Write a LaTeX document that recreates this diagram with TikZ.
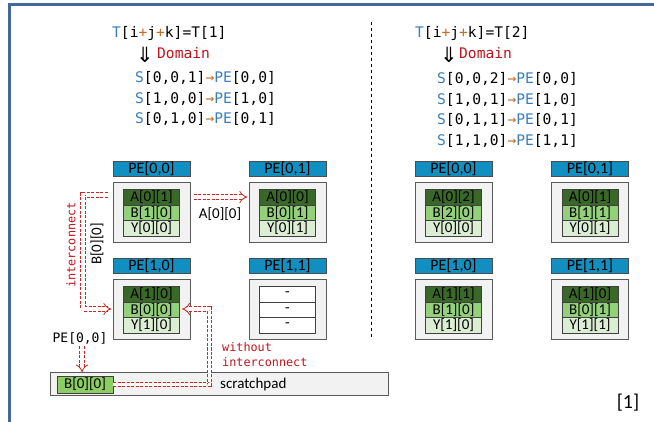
\documentclass[tikz,border=0pt]{standalone}
\usepackage{fontspec}
\setmainfont{Carlito}
\newfontfamily\mono{DejaVu Sans Mono}
\newfontfamily\dvs{DejaVu Sans}
\usetikzlibrary{arrows.meta,calc}
\definecolor{frameblue}{RGB}{65,105,155}
\definecolor{hdrblue}{RGB}{16,143,192}
\definecolor{txtblue}{RGB}{60,125,190}
\definecolor{txtorange}{RGB}{197,110,40}
\definecolor{txtred}{RGB}{192,20,30}
\definecolor{arrred}{RGB}{205,40,40}
\definecolor{boxgray}{RGB}{242,242,242}
\definecolor{boxedge}{RGB}{90,90,90}
\definecolor{gA}{RGB}{58,104,40}
\definecolor{gB}{RGB}{146,208,122}
\definecolor{gY}{RGB}{219,238,212}
\definecolor{gS}{RGB}{140,205,100}
\newcommand\tb[1]{\textcolor{txtblue}{#1}}
\newcommand\tor[1]{\textcolor{txtorange}{#1}}
\newcommand\drawpe[7]{%
  \node[pehdr] (#1h) at (#2,#3-44.5) {#4};
  \node[pebox] (#1) at (#2,#3) {};
  \node[cellbox,fill=gA] (#1A) at (#2,#3-15.5) {#5};
  \node[cellbox,fill=gB] (#1B) at (#2,#3) {#6};
  \node[cellbox,fill=gY] (#1Y) at (#2,#3+15.5) {#7};
}
\begin{document}
\begin{tikzpicture}[x=1pt,y=-1pt,
  pebox/.style={draw=boxedge,fill=boxgray,line width=1pt,minimum width=77pt,minimum height=60pt,inner sep=0pt},
  pehdr/.style={draw=black!70,fill=hdrblue,line width=0.8pt,minimum width=77pt,minimum height=15pt,inner sep=0pt,font=\fontsize{16}{16}\selectfont},
  cellbox/.style={draw=black!75,line width=0.8pt,minimum width=56pt,minimum height=15.5pt,inner sep=0pt,font=\fontsize{15}{15}\selectfont},
  mtext/.style={inner sep=0pt,font=\mono\fontsize{14.6}{17}\selectfont},
  redarr/.style={draw=arrred,double=white,double distance=3.5pt,line width=0.8pt,dash pattern=on 3pt off 1.5pt,-{Implies[scale=1.4]}},
  redmono/.style={text=txtred,inner sep=0pt,font=\mono\fontsize{11.8}{15}\selectfont}]
\useasboundingbox (0,0) rectangle (654,422);
\fill[white] (0,0) rectangle (654,422);
\draw[frameblue,line width=3pt] (9,422) -- (9,5) -- (654,5);
% divider
\draw[dash pattern=on 3pt off 3pt,line width=0.9pt] (371,22) -- (371,340);
% left text
\node[mtext,anchor=west] (t1) at (112,33) {\tb{T}[i\tor{+}j\tor{+}k]=T[1]};
\node[inner sep=0pt,font=\dvs\fontsize{21}{21}\selectfont] (d1) at (145,55) {⇓};
\node[mtext,anchor=west,text=txtred] (dom1) at (157,53) {Domain};
\node[mtext,anchor=west] (s11) at (135,78) {\tb{S}[0,0,1]\tor{→}\tb{PE}[0,0]};
\node[mtext,anchor=west] (s12) at (135,98.5) {\tb{S}[1,0,0]\tor{→}\tb{PE}[1,0]};
\node[mtext,anchor=west] (s13) at (135,119) {\tb{S}[0,1,0]\tor{→}\tb{PE}[0,1]};
% right text
\node[mtext,anchor=west] (t2) at (415,33) {\tb{T}[i\tor{+}j\tor{+}k]=T[2]};
\node[inner sep=0pt,font=\dvs\fontsize{21}{21}\selectfont] (d2) at (449,55) {⇓};
\node[mtext,anchor=west,text=txtred] (dom2) at (459,53) {Domain};
\node[mtext,anchor=west] (s21) at (437,79) {\tb{S}[0,0,2]\tor{→}\tb{PE}[0,0]};
\node[mtext,anchor=west] (s22) at (437,99.5) {\tb{S}[1,0,1]\tor{→}\tb{PE}[1,0]};
\node[mtext,anchor=west] (s23) at (437,120) {\tb{S}[0,1,1]\tor{→}\tb{PE}[0,1]};
\node[mtext,anchor=west] (s24) at (437,140.5) {\tb{S}[1,1,0]\tor{→}\tb{PE}[1,1]};
% left PEs
\drawpe{p00}{151.5}{213}{PE[0,0]}{A[0][1]}{B[1][0]}{Y[0][0]}
\drawpe{p01}{287.5}{213}{PE[0,1]}{A[0][0]}{B[0][1]}{Y[0][1]}
\drawpe{p10}{151.5}{310}{PE[1,0]}{A[1][0]}{B[0][0]}{Y[1][0]}
\node[pehdr] (p11h) at (287.5,265.5) {PE[1,1]};
\node[pebox] (p11) at (287.5,310) {};
\node[cellbox,fill=white] (p11A) at (287.5,294.5) {-};
\node[cellbox,fill=white] (p11B) at (287.5,310) {-};
\node[cellbox,fill=white] (p11Y) at (287.5,325.5) {-};
% right PEs
\drawpe{q00}{453.5}{213}{PE[0,0]}{A[0][2]}{B[2][0]}{Y[0][0]}
\drawpe{q01}{590}{213}{PE[0,1]}{A[0][1]}{B[1][1]}{Y[0][1]}
\drawpe{q10}{453.5}{310}{PE[1,0]}{A[1][1]}{B[1][0]}{Y[1][0]}
\drawpe{q11}{590}{310}{PE[1,1]}{A[1][0]}{B[0][1]}{Y[1][1]}
% scratchpad
\node[draw=boxedge,fill=boxgray,line width=1pt,minimum width=338pt,minimum height=22pt,inner sep=0pt] (sp) at (219,384) {};
\node[cellbox,fill=gS,minimum height=17pt] (spB) at (85,384.5) {B[0][0]};
\node[anchor=west,inner sep=0pt,font=\fontsize{15}{15}\selectfont] (spt) at (220,385) {scratchpad};
% arrows and labels
\draw[redarr] ($(p00.east)+(3,-16)$) -- ($(p01.west)+(-1,-16)$);
\node[inner sep=0pt,font=\fontsize{15}{15}\selectfont] (lblA) at (220,214) {A[0][0]};
\coordinate (icx) at (83,250);
\draw[redarr] ($(p00.west)+(-5,-18)$) -| (icx) |- ($(p10.west)+(-1,-1)$);
\node[redmono,rotate=90] (lblIC) at (71,245) {interconnect};
\node[inner sep=0pt,rotate=90,font=\fontsize{15}{15}\selectfont] (lblB) at (97,244) {B[0][0]};
\coordinate (wx) at (209.5,350);
\draw[redarr] (spB.east) -| (wx) |- ($(p10B.east)+(2,-1)$);
\node[redmono,anchor=north west,align=left] (lblW) at (222,342) {without\\interconnect};
\node[inner sep=0pt,font=\mono\fontsize{13}{13}\selectfont] (lblPE) at (80,338) {PE[0,0]};
\draw[redarr] ($(lblPE.south)+(2,2)$) -- ($(spB.north)+(-3,-3)$);
\node[inner sep=0pt,font=\fontsize{20}{20}\selectfont] (ref) at (628,403) {[1]};
\end{tikzpicture}
\end{document}
